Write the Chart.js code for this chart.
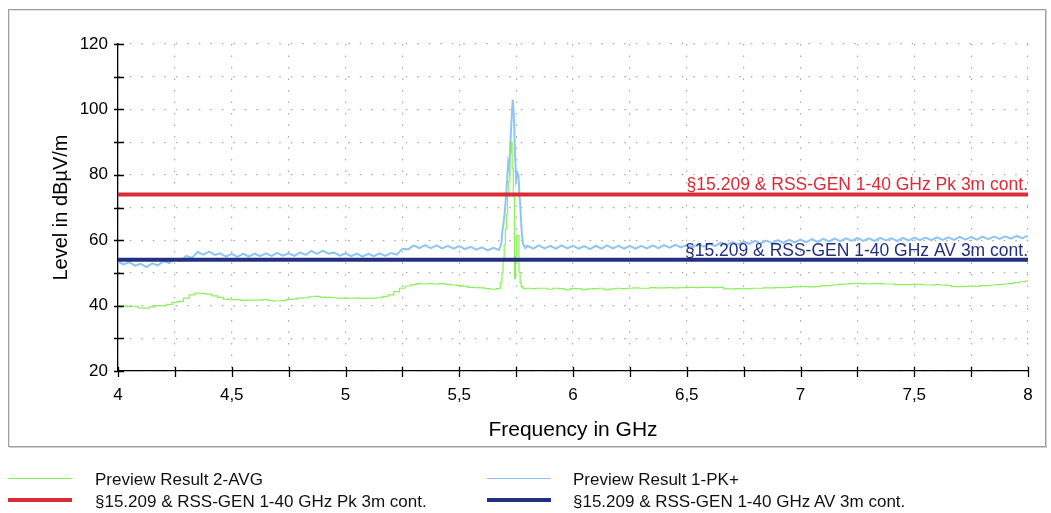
<!DOCTYPE html>
<html>
<head>
<meta charset="utf-8">
<script src="https://cdn.jsdelivr.net/npm/chart.js@4.4.1/dist/chart.umd.min.js"></script>
<style>
body { margin: 0; background: #fff; font-family: "Liberation Sans", Arial, sans-serif; }
#frame { position: absolute; left: 8px; top: 9px; width: 1038px; height: 438px; box-sizing: border-box;
	border: 1px solid #a0a0a0; box-shadow: 1px 1px 0 #cfcfcf, inset 1px 1px 0 #e2e2e2; }
#chart { position: absolute; left: 0; top: 0; }
.lg-line { position: absolute; width: 64px; }
.lg-text { position: absolute; font-size: 17px; line-height: 20px; color: #111; white-space: nowrap; }
</style>
</head>
<body>
<div id="frame"></div>
<canvas id="chart" width="1051" height="513"></canvas>
<div id="legend"></div>
<script>
// sweep frequencies (GHz), denser around the 5.7 GHz carrier
const freqGHz = [
	4, 4.025, 4.05, 4.075, 4.1, 4.125, 4.15, 4.175, 4.2, 4.225,
	4.25, 4.275, 4.3, 4.325, 4.35, 4.375, 4.4, 4.425, 4.45, 4.475,
	4.5, 4.525, 4.55, 4.575, 4.6, 4.625, 4.65, 4.675, 4.7, 4.725,
	4.75, 4.775, 4.8, 4.825, 4.85, 4.875, 4.9, 4.925, 4.95, 4.975,
	5, 5.025, 5.05, 5.075, 5.1, 5.125, 5.15, 5.175, 5.2, 5.225,
	5.25, 5.275, 5.3, 5.325, 5.35, 5.375, 5.4, 5.425, 5.45, 5.475,
	5.5, 5.525, 5.55, 5.575, 5.6, 5.625, 5.65, 5.675,
	5.685, 5.69, 5.695, 5.7, 5.705, 5.71, 5.715, 5.72, 5.725, 5.73,
	5.735, 5.74, 5.745, 5.75, 5.755, 5.76, 5.765, 5.77, 5.775, 5.78, 5.79,
	5.8, 5.825, 5.85, 5.875, 5.9, 5.925, 5.95, 5.975,
	6, 6.025, 6.05, 6.075, 6.1, 6.125, 6.15, 6.175, 6.2, 6.225,
	6.25, 6.275, 6.3, 6.325, 6.35, 6.375, 6.4, 6.425, 6.45, 6.475,
	6.5, 6.525, 6.55, 6.575, 6.6, 6.625, 6.65, 6.675, 6.7, 6.725,
	6.75, 6.775, 6.8, 6.825, 6.85, 6.875, 6.9, 6.925, 6.95, 6.975,
	7, 7.025, 7.05, 7.075, 7.1, 7.125, 7.15, 7.175, 7.2, 7.225,
	7.25, 7.275, 7.3, 7.325, 7.35, 7.375, 7.4, 7.425, 7.45, 7.475,
	7.5, 7.525, 7.55, 7.575, 7.6, 7.625, 7.65, 7.675, 7.7, 7.725,
	7.75, 7.775, 7.8, 7.825, 7.85, 7.875, 7.9, 7.925, 7.95, 7.975,
	8
];

// Preview Result 1-PK+ (dBuV/m)
const pkLevel = [
	53.4, 52.6, 53.3, 52.2, 52.8, 51.8, 52.9, 52.3, 53.6, 53.0,
	54.2, 53.6, 55.2, 54.6, 56.4, 55.6, 56.5, 55.5, 56.0, 55.0,
	55.8, 54.9, 55.9, 55.0, 55.9, 55.1, 56.0, 55.2, 56.1, 55.3,
	56.0, 55.2, 56.3, 55.5, 56.7, 55.8, 56.8, 55.9, 56.2, 55.3,
	56.0, 55.1, 55.9, 55.0, 55.8, 55.1, 56.0, 55.2, 56.1, 55.6,
	57.4, 57.2, 58.4, 57.6, 58.5, 57.6, 58.4, 57.5, 58.3, 57.4,
	58.2, 57.3, 58.0, 57.1, 57.8, 56.9, 57.7, 57.0,
	59.0, 62.9, 65.5, 68.5, 73.0, 78.0, 83.7, 81.7, 90.0, 97.0,
	103.0, 98.5, 86.8, 78.6, 80.6, 80.0, 73.5, 68.5, 62.0, 59.0, 57.6,
	58.3, 57.4, 58.4, 57.5, 58.3, 57.4, 58.4, 57.5,
	58.3, 57.4, 58.2, 57.3, 58.3, 57.4, 58.4, 57.5, 58.3, 57.4,
	58.3, 57.4, 58.3, 57.5, 58.4, 57.6, 58.5, 57.7, 58.6, 57.8,
	58.6, 57.8, 58.8, 58.0, 59.0, 58.2, 59.3, 58.5, 59.4, 58.7,
	59.6, 58.9, 59.8, 59.0, 59.9, 59.1, 60.0, 59.2, 60.1, 59.3,
	60.2, 59.4, 60.3, 59.5, 60.4, 59.6, 60.5, 59.7, 60.6, 59.8,
	60.7, 59.8, 60.6, 59.8, 60.7, 59.9, 60.6, 59.8, 60.7, 59.9,
	60.8, 60.0, 60.8, 60.0, 60.9, 60.1, 60.9, 60.1, 61.0, 60.2,
	61.0, 60.2, 61.1, 60.3, 61.1, 60.4, 61.2, 60.5, 61.3, 60.6,
	61.4
];

// Preview Result 2-AVG (dBuV/m)
const avgLevel = [
	39.8, 39.9, 39.7, 39.8, 39.3, 39.2, 39.6, 40.0, 40.0, 40.4,
	41.0, 41.3, 42.3, 43.3, 43.8, 43.7, 43.5, 43.0, 42.5, 42.0,
	41.8, 41.8, 41.6, 41.7, 41.7, 41.7, 41.8, 41.5, 41.4, 41.5,
	41.9, 42.0, 42.3, 42.4, 42.7, 42.8, 42.6, 42.5, 42.4, 42.3,
	42.3, 42.3, 42.3, 42.2, 42.3, 42.3, 42.4, 42.8, 43.3, 44.3,
	45.3, 46.0, 46.4, 46.7, 46.6, 46.7, 46.6, 46.7, 46.5, 46.3,
	46.2, 45.9, 45.6, 45.5, 45.4, 45.2, 45.0, 45.2,
	47.0, 50.0, 54.3, 58.5, 63.4, 68.0, 73.5, 78.0, 86.7, 90.0,
	82.0, 73.5, 48.3, 55.0, 61.4, 61.4, 50.2, 47.0, 45.9, 45.4, 45.2,
	45.3, 45.2, 45.3, 45.3, 45.0, 45.3, 45.2, 44.9,
	45.2, 45.2, 44.9, 45.1, 45.2, 45.3, 44.9, 45.1, 45.3, 45.2,
	45.3, 45.4, 45.3, 45.3, 45.5, 45.4, 45.4, 45.5, 45.4, 45.5,
	45.5, 45.6, 45.5, 45.6, 45.6, 45.5, 45.6, 45.1, 45.1, 45.2,
	45.1, 45.2, 45.3, 45.3, 45.4, 45.4, 45.5, 45.5, 45.6, 45.7,
	45.8, 45.8, 45.7, 45.8, 46.1, 46.1, 46.3, 46.5, 46.6, 46.7,
	46.8, 46.7, 46.6, 46.7, 46.7, 46.6, 46.6, 46.4, 46.4, 46.4,
	46.5, 46.5, 46.3, 46.3, 46.4, 46.3, 46.2, 45.8, 45.8, 45.9,
	46.0, 45.9, 46.1, 46.1, 46.3, 46.4, 46.6, 46.7, 47.0, 47.3,
	47.5
];

// limit lines
const limitFreq = [4, 8];
const pkLimit = [74, 74];
const avLimit = [54, 54];

const seriesNames = [
	"§15.209 & RSS-GEN 1-40 GHz Pk 3m cont.",
	"§15.209 & RSS-GEN 1-40 GHz AV 3m cont.",
	"Preview Result 2-AVG",
	"Preview Result 1-PK+"
];

const FONT = '"Liberation Sans", Arial, sans-serif';

function pts(xs, ys) {
	return xs.map((x, i) => ({ x: x, y: ys[i] }));
}

// ticks crossing the axis lines + limit line captions
const axisDecor = {
	id: "axisDecor",
	afterDatasetsDraw(chart) {
		const ctx = chart.ctx;
		const xs = chart.scales.x, ys = chart.scales.y;
		ctx.save();
		ctx.font = "17.5px " + FONT;
		ctx.textAlign = "right";
		ctx.textBaseline = "alphabetic";
		[0, 1].forEach(i => {
			const ds = chart.data.datasets[i];
			ctx.fillStyle = ds.borderColor;
			ctx.fillText(ds.label, xs.right, ys.getPixelForValue(ds.data[0].y) - 4);
		});
		ctx.restore();
	},
	afterDraw(chart) {
		const ctx = chart.ctx;
		const xs = chart.scales.x, ys = chart.scales.y;
		ctx.save();
		ctx.strokeStyle = "#000";
		ctx.lineWidth = 1.3;
		ctx.beginPath();
		xs.ticks.forEach(t => {
			const px = Math.round(xs.getPixelForValue(t.value)) + 0.5;
			ctx.moveTo(px, ys.bottom - 4);
			ctx.lineTo(px, ys.bottom + 6);
		});
		ys.ticks.forEach(t => {
			const py = Math.round(ys.getPixelForValue(t.value)) + 0.5;
			ctx.moveTo(xs.left - 4, py);
			ctx.lineTo(xs.left + 6, py);
		});
		ctx.stroke();
		ctx.restore();
	}
};

const gridStyle = { color: "#a8a8a8", lineWidth: 1.2, drawTicks: false };
const borderStyle = { color: "#000", width: 1.3, dash: [1.5, 10] };

const chart = new Chart(document.getElementById("chart"), {
	type: "line",
	data: {
		datasets: [
			{ label: seriesNames[0], data: pts(limitFreq, pkLimit), borderColor: "#dc2a36", borderWidth: 4, order: 0 },
			{ label: seriesNames[1], data: pts(limitFreq, avLimit), borderColor: "#23307e", borderWidth: 4, order: 1 },
			{ label: seriesNames[2], data: pts(freqGHz, avgLevel), borderColor: "#8cef5c", borderWidth: 1.2, stepped: "middle", order: 2 },
			{ label: seriesNames[3], data: pts(freqGHz, pkLevel), borderColor: "#8fc4f6", borderWidth: 2, order: 3 }
		]
	},
	options: {
		responsive: false,
		animation: false,
		devicePixelRatio: 1,
		elements: { point: { radius: 0 }, line: { tension: 0 } },
		layout: { padding: { left: 45, right: 23, top: 44, bottom: 66 } },
		plugins: { legend: { display: false }, tooltip: { enabled: false } },
		scales: {
			x: {
				type: "linear",
				min: 4,
				max: 8,
				afterFit: s => { s.height = 76; },
				border: borderStyle,
				grid: gridStyle,
				ticks: {
					stepSize: 0.25,
					autoSkip: false,
					maxRotation: 0,
					padding: 14,
					color: "#000",
					font: { family: FONT, size: 17 },
					callback: v => (Math.abs(v * 2 - Math.round(v * 2)) < 1e-6 ? String(v).replace(".", ",") : "")
				},
				title: { display: true, text: "Frequency in GHz", color: "#000", font: { family: FONT, size: 21 } }
			},
			y: {
				min: 20,
				max: 120,
				afterFit: s => { s.width = 73; },
				border: borderStyle,
				grid: gridStyle,
				ticks: {
					stepSize: 10,
					padding: 10,
					color: "#000",
					font: { family: FONT, size: 17 },
					callback: v => (v % 20 === 0 ? v : "")
				},
				title: { display: true, text: "Level in dBµV/m", color: "#000", font: { family: FONT, size: 20 } }
			}
		}
	},
	plugins: [axisDecor]
});

// legend below the frame, two columns
const legendSlots = [
	{ ds: 2, lx: 8, tx: 95, y: 478 },
	{ ds: 3, lx: 487, tx: 573, y: 478 },
	{ ds: 0, lx: 8, tx: 95, y: 500 },
	{ ds: 1, lx: 487, tx: 573, y: 500 }
];
const legendBox = document.getElementById("legend");
legendSlots.forEach(slot => {
	const ds = chart.data.datasets[slot.ds];
	const w = ds.borderWidth > 2 ? 4 : 1;
	const line = document.createElement("div");
	line.className = "lg-line";
	line.style.left = slot.lx + "px";
	line.style.top = (slot.y - w / 2) + "px";
	line.style.height = w + "px";
	line.style.background = ds.borderColor;
	legendBox.appendChild(line);
	const txt = document.createElement("div");
	txt.className = "lg-text";
	txt.style.left = slot.tx + "px";
	txt.style.top = (slot.y - 8.5) + "px";
	txt.textContent = ds.label;
	legendBox.appendChild(txt);
});
</script>
</body>
</html>
